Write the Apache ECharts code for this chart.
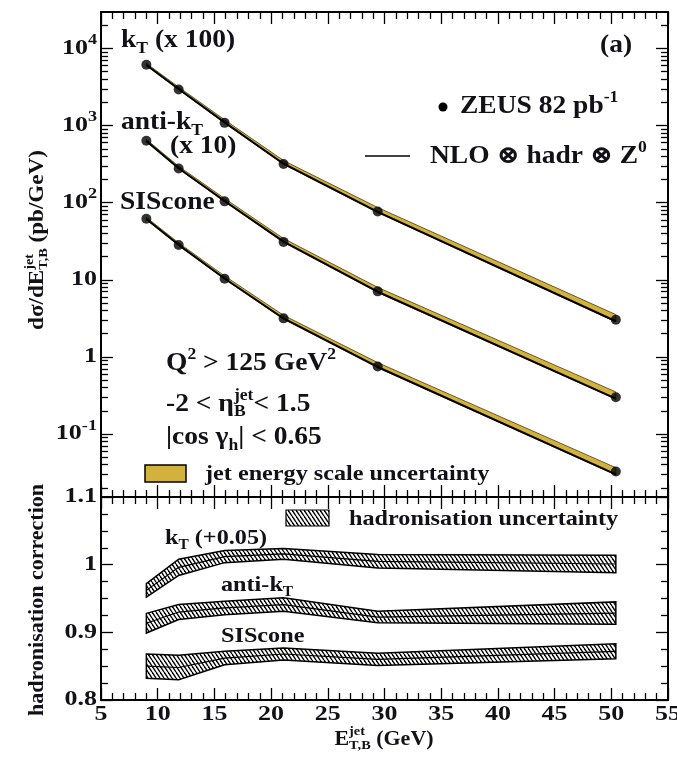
<!DOCTYPE html>
<html>
<head>
<meta charset="utf-8">
<script src="https://cdn.jsdelivr.net/npm/echarts@6/dist/echarts.min.js"></script>
<style>
  html, body { margin: 0; padding: 0; background: #fff; }
  #chart { width: 677px; height: 758px; }
</style>
</head>
<body>
<div id="chart"></div>
<script>
// ---------------- data ----------------
// Jet transverse-energy bin centres (GeV)
const etJet = [9.0, 11.85, 15.9, 21.1, 29.4, 50.4];

// Measured dσ/dE_T,B^jet (pb/GeV), ZEUS 82 pb^-1
const xsecKt      = [61.5, 29.4, 10.85, 3.18, 0.77, 0.0303];
const xsecAntiKt  = [63.6, 27.7, 10.4, 3.10, 0.708, 0.0300];
const xsecSiscone = [62.0, 28.2, 10.3, 3.16, 0.75, 0.0326];

// NLO ⊗ hadr ⊗ Z0 predictions (pb/GeV)
const nloKt      = [61.0, 29.8, 11.0, 3.20, 0.76, 0.0290];
const nloAntiKt  = [63.0, 28.0, 10.5, 3.12, 0.70, 0.0288];
const nloSiscone = [61.5, 28.4, 10.4, 3.15, 0.74, 0.0300];

// Jet-energy-scale uncertainty (relative, up / down)
const jesUp   = [0.05, 0.06, 0.08, 0.10, 0.14, 0.22];
const jesDown = [0.02, 0.02, 0.02, 0.02, 0.02, 0.02];

// Display scale factors
const scaleKt = 100;
const scaleAntiKt = 10;
const scaleSiscone = 1;

// Hadronisation corrections (central value and half-width of uncertainty)
const hadrKt         = [0.912, 0.946, 0.962, 0.966, 0.955, 0.951];
const hadrKtErr      = [0.010, 0.012, 0.009, 0.008, 0.010, 0.013];
const hadrAntiKt     = [0.9135, 0.930, 0.936, 0.941, 0.9225, 0.9285];
const hadrAntiKtErr  = [0.0145, 0.011, 0.010, 0.010, 0.0085, 0.0165];
const hadrSiscone    = [0.850, 0.848, 0.862, 0.868, 0.860, 0.872];
const hadrSisconeErr = [0.018, 0.018, 0.010, 0.009, 0.009, 0.011];
const hadrKtOffset = 0.05;

// Axis ticks
const xTicks = [5, 10, 15, 20, 25, 30, 35, 40, 45, 50, 55];
const yTicksTop = [0.1, 1, 10, 100, 1000, 10000];
const yTicksBottom = [0.8, 0.9, 1, 1.1];

// ---------------- style ----------------
const FONT = '"Liberation Serif", "DejaVu Serif", serif';
const INK = '#111118';
const GOLD = '#d2b23c';
const Y_MIN = Math.pow(10, -1.817);
const Y_MAX = Math.pow(10, 4.473);
const S_TXT = 22, SX_TXT = 1.1;   // legend / lower-panel text
const S_BIG = 25;                 // upper-panel annotations
const S_TICK = 20, SX_TICK = 1.3;
const S_SMALL = 14, S_SMALL_BIG = 16;

const yTicksTopMinor = [];
for (let k = -2; k <= 4; k++) {
  for (let m = 2; m <= 9; m++) {
    const v = m * Math.pow(10, k);
    if (v > Y_MIN && v < Y_MAX) yTicksTopMinor.push(v);
  }
}

// ---------------- text helpers ----------------
const mctx = document.createElement('canvas').getContext('2d');
function tw(str, size) {
  mctx.font = 'bold ' + size + 'px ' + FONT;
  return mctx.measureText(str).width;
}
function r(t, size, dy) { return { t: t, size: size, dy: dy || 0 }; }
function stk(sup, sub, size, up, down) { return { sup: sup, sub: sub, size: size, up: up || 8, down: down || 6 }; }
function txt(x, y, t, size) {
  return {
    type: 'text', x: x, y: y, silent: true,
    style: { text: t, fontSize: size, fontFamily: FONT, fontWeight: 'bold',
             fill: INK, verticalAlign: 'middle', align: 'left' }
  };
}
// One line of text built from pieces (plain runs, shifted runs, stacked sup/sub)
function textLine(x, y, pieces, o) {
  o = o || {};
  const kids = [];
  let cx = 0;
  pieces.forEach(function (p) {
    if (p.t !== undefined) {
      kids.push(txt(cx, p.dy, p.t, p.size));
      cx += tw(p.t, p.size);
    } else {
      kids.push(txt(cx, -p.up, p.sup, p.size));
      kids.push(txt(cx, p.down, p.sub, p.size));
      cx += Math.max(tw(p.sup, p.size), tw(p.sub, p.size));
    }
  });
  const shift = o.align === 'center' ? -cx / 2 : (o.align === 'right' ? -cx : 0);
  kids.forEach(function (k) { k.x += shift; });
  return { type: 'group', x: x, y: y, rotation: o.rotation || 0,
           scaleX: o.scaleX || 1, silent: true, children: kids };
}

// Diagonal hatch used for the hadronisation-uncertainty bands
function hatchCanvas() {
  const w = 4, h = 6;
  const c = document.createElement('canvas');
  c.width = w; c.height = h;
  const g = c.getContext('2d');
  g.fillStyle = '#fff';
  g.fillRect(0, 0, w, h);
  g.strokeStyle = '#000';
  g.lineWidth = 1.4;
  [-w, 0, w].forEach(function (off) {
    g.beginPath(); g.moveTo(off, 0); g.lineTo(off + w, h); g.stroke();
  });
  return c;
}
const HATCH = { image: hatchCanvas(), repeat: 'repeat' };

// ---------------- axes ----------------
const frameLine = { color: '#000', width: 2 };
const tickLine = { color: '#000', width: 1.3 };

function xAxisDef(gridIndex, position) {
  return {
    type: 'value', gridIndex: gridIndex, position: position,
    min: 5, max: 55, interval: 5,
    axisLine: { show: true, onZero: false, lineStyle: frameLine },
    axisTick: { show: true, inside: true, length: 12, lineStyle: tickLine },
    minorTick: { show: true, splitNumber: 5, length: 7, lineStyle: tickLine },
    axisLabel: { show: false },
    splitLine: { show: false }, minorSplitLine: { show: false }
  };
}
function logAxisDef(position, values, len, showLine) {
  return {
    type: 'log', logBase: 10, gridIndex: 0, position: position,
    min: Y_MIN, max: Y_MAX,
    axisLine: { show: showLine, onZero: false, lineStyle: frameLine },
    axisTick: { show: true, inside: true, length: len, customValues: values, lineStyle: tickLine },
    axisLabel: { show: false },
    splitLine: { show: false }, minorTick: { show: false }
  };
}
function linAxisDef(position) {
  return {
    type: 'value', gridIndex: 1, position: position,
    min: 0.8, max: 1.1, interval: 0.1,
    axisLine: { show: true, onZero: false, lineStyle: frameLine },
    axisTick: { show: true, inside: true, length: 12, lineStyle: tickLine },
    minorTick: { show: true, splitNumber: 4, length: 7, lineStyle: tickLine },
    axisLabel: { show: false },
    splitLine: { show: false }, minorSplitLine: { show: false }
  };
}

// ---------------- series ----------------
function bandSeries(xs, lo, hi, xi, yi, style, centre, z) {
  return {
    type: 'custom', xAxisIndex: xi, yAxisIndex: yi, z: z, silent: true,
    data: [[xs[0], lo[0]]],
    renderItem: function (params, api) {
      const upper = xs.map(function (x, i) { return api.coord([x, hi[i]]); });
      const lower = xs.map(function (x, i) { return api.coord([x, lo[i]]); }).reverse();
      const kids = [{ type: 'polygon', shape: { points: upper.concat(lower) }, style: style }];
      if (centre) {
        kids.push({ type: 'polyline',
          shape: { points: xs.map(function (x, i) { return api.coord([x, centre[i]]); }) },
          style: { stroke: '#000', lineWidth: 1.2, fill: null } });
      }
      return { type: 'group', children: kids };
    }
  };
}

const series = [];
[
  { xsec: xsecKt, nlo: nloKt, scale: scaleKt },
  { xsec: xsecAntiKt, nlo: nloAntiKt, scale: scaleAntiKt },
  { xsec: xsecSiscone, nlo: nloSiscone, scale: scaleSiscone }
].forEach(function (a) {
  const th = a.nlo.map(function (v) { return v * a.scale; });
  const lo = th.map(function (v, i) { return v * (1 - jesDown[i]); });
  const hi = th.map(function (v, i) { return v * (1 + jesUp[i]); });
  series.push(bandSeries(etJet, lo, hi, 0, 0,
    { fill: GOLD, stroke: '#4a3d0c', lineWidth: 0.8 }, null, 1));
  series.push({
    type: 'line', xAxisIndex: 0, yAxisIndex: 0, z: 2, silent: true,
    symbol: 'none', lineStyle: { color: '#000', width: 2 },
    data: etJet.map(function (x, i) { return [x, th[i]]; })
  });
  series.push({
    type: 'scatter', xAxisIndex: 0, yAxisIndex: 0, z: 3, silent: true,
    symbol: 'circle', symbolSize: 10, itemStyle: { color: '#000' },
    data: etJet.map(function (x, i) { return [x, a.xsec[i] * a.scale]; })
  });
});

[
  { c: hadrKt, e: hadrKtErr, off: hadrKtOffset },
  { c: hadrAntiKt, e: hadrAntiKtErr, off: 0 },
  { c: hadrSiscone, e: hadrSisconeErr, off: 0 }
].forEach(function (h) {
  const mid = h.c.map(function (v) { return v + h.off; });
  const lo = mid.map(function (v, i) { return v - h.e[i]; });
  const hi = mid.map(function (v, i) { return v + h.e[i]; });
  series.push(bandSeries(etJet, lo, hi, 2, 4,
    { fill: HATCH, stroke: '#000', lineWidth: 1.5 }, mid, 2));
});

const option = {
  animation: false,
  backgroundColor: '#fff',
  grid: [
    { left: 101, top: 12, width: 567, height: 485 },
    { left: 101, top: 497, width: 567, height: 203 }
  ],
  xAxis: [xAxisDef(0, 'bottom'), xAxisDef(0, 'top'), xAxisDef(1, 'bottom'), xAxisDef(1, 'top')],
  yAxis: [
    logAxisDef('left', yTicksTop, 12, true),
    logAxisDef('left', yTicksTopMinor, 7, false),
    logAxisDef('right', yTicksTop, 12, true),
    logAxisDef('right', yTicksTopMinor, 7, false),
    linAxisDef('left'),
    linAxisDef('right')
  ],
  series: series
};

const chart = echarts.init(document.getElementById('chart'), null, { renderer: 'canvas' });
chart.setOption(option);

// ---------------- labels & legends ----------------
const T = S_TXT, s = S_SMALL, B = S_BIG, sb = S_SMALL_BIG;
const gfx = [
  textLine(121, 41, [r('k', B), r('T', sb, 8), r(' (x 100)', B)], { scaleX: SX_TXT }),
  textLine(121, 123, [r('anti-k', B), r('T', sb, 8)], { scaleX: SX_TXT }),
  textLine(170, 147, [r('(x 10)', B)], { scaleX: SX_TXT }),
  textLine(120, 203, [r('SIScone', B)], { scaleX: SX_TXT }),
  textLine(600, 46, [r('(a)', B)], { scaleX: SX_TXT }),
  { type: 'circle', shape: { cx: 443, cy: 107, r: 4.5 }, style: { fill: '#000' }, silent: true },
  textLine(460, 107, [r('ZEUS 82 pb', B), r('-1', sb, -9)], { scaleX: SX_TXT }),
  { type: 'line', shape: { x1: 365, y1: 156, x2: 410, y2: 156 }, style: { stroke: '#000', lineWidth: 1.5 }, silent: true },
  textLine(430, 157, [r('NLO ⊗ hadr ⊗ Z', B), r('0', sb, -9)], { scaleX: SX_TXT }),
  textLine(166, 364, [r('Q', B), r('2', sb, -9), r(' > 125 GeV', B), r('2', sb, -9)], { scaleX: SX_TXT }),
  textLine(166, 405, [r('-2 < η', B), stk('jet', 'B', sb, 9, 7), r('< 1.5', B)], { scaleX: SX_TXT }),
  textLine(166, 438, [r('|cos γ', B), r('h', sb, 8), r('| < 0.65', B)], { scaleX: SX_TXT }),
  { type: 'rect', shape: { x: 145, y: 465, width: 41, height: 17 },
    style: { fill: GOLD, stroke: '#000', lineWidth: 1.5 }, silent: true },
  textLine(205, 474, [r('jet energy scale uncertainty', T)], { scaleX: SX_TXT }),
  { type: 'rect', shape: { x: 286, y: 510, width: 43, height: 16 },
    style: { fill: HATCH, stroke: '#000', lineWidth: 1.2 }, silent: true },
  textLine(349, 519, [r('hadronisation uncertainty', T)], { scaleX: SX_TXT }),
  textLine(165, 538, [r('k', T), r('T', s, 7), r(' (+0.05)', T)], { scaleX: SX_TXT }),
  textLine(221, 585, [r('anti-k', T), r('T', s, 7)], { scaleX: SX_TXT }),
  textLine(221, 636, [r('SIScone', T)], { scaleX: SX_TXT }),
  // axis titles
  textLine(38, 240, [r('dσ/dE', 21), stk('jet', 'T,B', 13), r(' (pb/GeV)', 21)],
    { align: 'center', rotation: Math.PI / 2, scaleX: SX_TXT }),
  textLine(38, 600, [r('hadronisation correction', 20)],
    { align: 'center', rotation: Math.PI / 2, scaleX: SX_TXT }),
  textLine(384, 740, [r('E', 20), stk('jet', 'T,B', 13), r(' (GeV)', 20)],
    { align: 'center', scaleX: SX_TXT })
];

// tick labels placed through the axes' own scales
yTicksTop.forEach(function (v) {
  const py = chart.convertToPixel({ yAxisIndex: 0 }, v);
  const e = Math.round(Math.log10(v));
  const pieces = e === 0 ? [r('1', S_TICK)] : (e === 1 ? [r('10', S_TICK)]
    : [r('10', S_TICK), r(String(e), s, -8)]);
  gfx.push(textLine(97, py, pieces, { align: 'right', scaleX: SX_TICK }));
});
yTicksBottom.forEach(function (v) {
  const py = chart.convertToPixel({ yAxisIndex: 4 }, v);
  gfx.push(textLine(97, py, [r(String(+v.toFixed(2)), S_TICK)], { align: 'right', scaleX: SX_TICK }));
});
xTicks.forEach(function (v) {
  const px = chart.convertToPixel({ xAxisIndex: 2 }, v);
  gfx.push(textLine(px, 715, [r(String(v), S_TICK)], { align: 'center', scaleX: SX_TICK }));
});

chart.setOption({ graphic: gfx });
</script>
</body>
</html>
